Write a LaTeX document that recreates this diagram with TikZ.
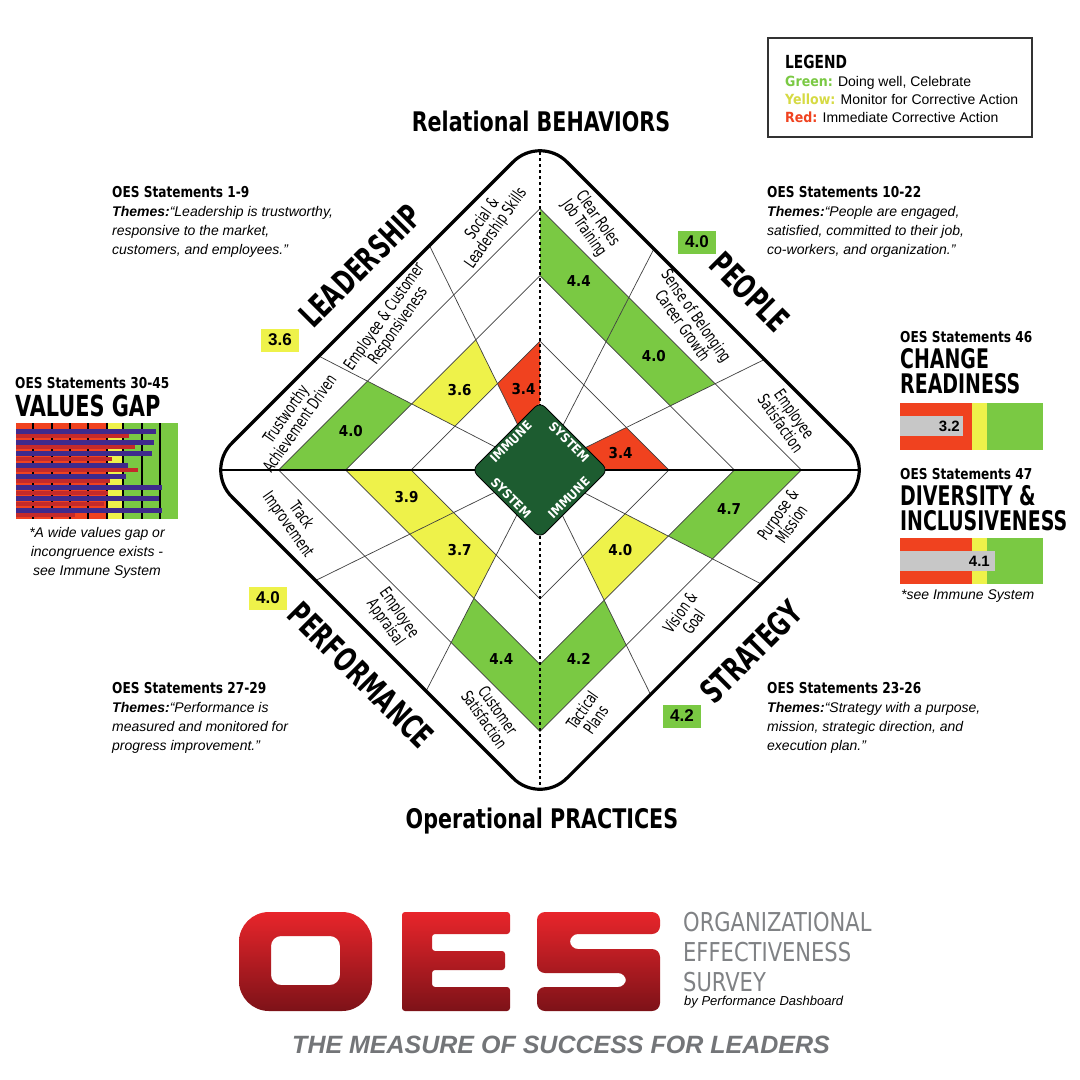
\documentclass[tikz,border=0pt]{standalone}
\usepackage{fontspec}
\setmainfont{Liberation Sans}
\newfontfamily\cond{DejaVu Sans Condensed}
\usetikzlibrary{calc}
\definecolor{gr}{HTML}{7AC943}
\definecolor{ye}{HTML}{EEF24A}
\definecolor{rd}{HTML}{F0421F}
\definecolor{dg}{HTML}{1D5C30}
\definecolor{gy}{HTML}{808285}
\definecolor{pu}{HTML}{3F2A8C}
\definecolor{dr}{HTML}{C42A2A}
\definecolor{lr1}{HTML}{E8252B}
\definecolor{lr2}{HTML}{7D1218}
\newcommand\QP[6]{({540+335*(#5)*((1-(#6))*(#1)+(#6)*(#3))},{470+335*(#5)*((1-(#6))*(#2)+(#6)*(#4))})}
\newcommand\PL[2]{\QP{-1}{0}{0}{-1}{#1}{#2}}
\newcommand\PP[2]{\QP{0}{-1}{1}{0}{#1}{#2}}
\newcommand\PS[2]{\QP{1}{0}{0}{1}{#1}{#2}}
\newcommand\PF[2]{\QP{0}{1}{-1}{0}{#1}{#2}}
\newcommand\hd[3]{{\cond\bfseries\fontsize{#1}{#1}\selectfont\scalebox{#2}[1]{#3}}}
\newcommand\cl[1]{\scalebox{0.76}[1]{\renewcommand\arraystretch{0.82}\begin{tabular}{@{}c@{}}#1\end{tabular}}}
\newcommand\cellq[6]{\fill[#1] #2{#3}{#5} -- #2{#4}{#5} -- #2{#4}{#6} -- #2{#3}{#6} -- cycle;}
\begin{document}
\begin{tikzpicture}[x=1pt,y=-1pt,
  web/.style={draw=black!75,line width=0.7pt},
  sc/.style={font=\cond\bfseries\fontsize{15}{15}\selectfont},
  cat/.style={font=\cond\fontsize{16.5}{17}\selectfont,inner sep=0},
  imm/.style={white,inner sep=0,font=\cond\bfseries\fontsize{12.5}{12.5}\selectfont},
  big/.style={inner sep=0},
  sbox/.style={minimum width=38,minimum height=23,inner sep=0,font=\bfseries\fontsize{17}{17}\selectfont},
  body/.style={anchor=north west,align=left,inner sep=0,font=\fontsize{14}{19}\selectfont}]
\useasboundingbox (0,0) rectangle (1080,1080);
\fill[white] (0,0) rectangle (1080,1080);
% cells
\def\ra{0.2}\def\rb{0.385}\def\rc{0.58}\def\rd{0.78}
\def\fa{0.34}\def\fb{0.67}
\cellq{gr}{\PL}{\rc}{\rd}{0}{\fa}
\cellq{ye}{\PL}{\rb}{\rc}{\fa}{\fb}
\cellq{rd}{\PL}{\ra}{\rb}{\fb}{1}
\cellq{gr}{\PP}{\rc}{\rd}{0}{\fa}
\cellq{gr}{\PP}{\rc}{\rd}{\fa}{\fb}
\cellq{rd}{\PP}{\ra}{\rb}{\fb}{1}
\cellq{gr}{\PS}{\rc}{\rd}{0}{\fa}
\cellq{ye}{\PS}{\rb}{\rc}{\fa}{\fb}
\cellq{gr}{\PS}{\rc}{\rd}{\fb}{1}
\cellq{gr}{\PF}{\rc}{\rd}{0}{\fa}
\cellq{ye}{\PF}{\rb}{\rc}{\fa}{\fb}
\cellq{ye}{\PF}{\rb}{\rc}{\fb}{1}
% rings
\foreach \r in {\rb,\rc,\rd}{
  \draw[web] (540,{470-335*\r}) -- ({540+335*\r},470) -- (540,{470+335*\r}) -- ({540-335*\r},470) -- cycle;}
% spokes
\foreach \f in {\fa,\fb}{
  \draw[web] \PL{\ra}{\f} -- \PL{1}{\f};
  \draw[web] \PP{\ra}{\f} -- \PP{1}{\f};
  \draw[web] \PS{\ra}{\f} -- \PS{1}{\f};
  \draw[web] \PF{\ra}{\f} -- \PF{1}{\f};}
% axes and frame
\draw[line width=1.5pt] (222,470) -- (858,470);
\draw[line width=1.5pt,dash pattern=on 3pt off 3pt] (540,152) -- (540,788);
\draw[line width=3.2pt,rounded corners=38] (540,135) -- (875,470) -- (540,805) -- (205,470) -- cycle;
% immune
\filldraw[fill=dg,draw=black,line width=0.8pt,rounded corners=7] (540,402) -- (608,470) -- (540,538) -- (472,470) -- cycle;
\node[imm,rotate=45] (im1) at (511,442) {IMMUNE};
\node[imm,rotate=-45] (im2) at (569,442) {SYSTEM};
\node[imm,rotate=-45] (im3) at (511,498) {SYSTEM};
\node[imm,rotate=45] (im4) at (569,498) {IMMUNE};
% scores
\node[sc] (s1) at \PL{0.68}{0.17} {4.0};
\node[sc] (s2) at \PL{0.48}{0.5} {3.6};
\node[sc] (s3) at \PL{0.29}{0.83} {3.4};
\node[sc] (s4) at \PP{0.68}{0.17} {4.4};
\node[sc] (s5) at \PP{0.68}{0.5} {4.0};
\node[sc] (s6) at \PP{0.29}{0.83} {3.4};
\node[sc] (s7) at \PS{0.68}{0.17} {4.7};
\node[sc] (s8) at \PS{0.48}{0.5} {4.0};
\node[sc] (s9) at \PS{0.68}{0.83} {4.2};
\node[sc] (s10) at \PF{0.68}{0.17} {4.4};
\node[sc] (s11) at \PF{0.48}{0.5} {3.7};
\node[sc] (s12) at \PF{0.48}{0.83} {3.9};
% category labels
\node[cat,rotate=55] (c1) at \PL{0.885}{0.17} {\cl{Trustworthy\\Achievement Driven}};
\node[cat,rotate=55] (c2) at \PL{0.885}{0.5} {\cl{Employee \& Customer\\Responsiveness}};
\node[cat,rotate=55] (c3) at \PL{0.885}{0.83} {\cl{Social \&\\Leadership Skills}};
\node[cat,rotate=-55] (c4) at \PP{0.885}{0.17} {\cl{Clear Roles\\Job Training}};
\node[cat,rotate=-55] (c5) at \PP{0.885}{0.5} {\cl{Sense of Belonging\\Career Growth}};
\node[cat,rotate=-55] (c6) at \PP{0.885}{0.83} {\cl{Employee\\Satisfaction}};
\node[cat,rotate=55] (c7) at \PS{0.885}{0.17} {\cl{Purpose \&\\Mission}};
\node[cat,rotate=55] (c8) at \PS{0.885}{0.5} {\cl{Vision \&\\Goal}};
\node[cat,rotate=55] (c9) at \PS{0.885}{0.83} {\cl{Tactical\\Plans}};
\node[cat,rotate=-55] (c10) at \PF{0.885}{0.17} {\cl{Customer\\Satisfaction}};
\node[cat,rotate=-55] (c11) at \PF{0.885}{0.5} {\cl{Employee\\Appraisal}};
\node[cat,rotate=-55] (c12) at \PF{0.885}{0.83} {\cl{Track\\Improvement}};
% quadrant titles
\node[big,rotate=45] (L) at (360,266) {\hd{33}{0.75}{LEADERSHIP}};
\node[big,rotate=-45] (P) at (750,292) {\hd{33}{0.75}{PEOPLE}};
\node[big,rotate=45] (S) at (751,652) {\hd{33}{0.75}{STRATEGY}};
\node[big,rotate=-45] (F) at (361,675) {\hd{33}{0.75}{PERFORMANCE}};
\node[big] (top) at (541,121) {\hd{27}{0.85}{Relational BEHAVIORS}};
\node[big] (bot) at (542,821) {\hd{27}{0.85}{Operational PRACTICES}};
% score boxes
\node[sbox,fill=ye] (b1) at (280,340) {3.6};
\node[sbox,fill=gr] (b2) at (697,242) {4.0};
\node[sbox,fill=ye] (b3) at (268,598) {4.0};
\node[sbox,fill=gr] (b4) at (682,716) {4.2};
% themes
\node[body] (t1) at (112,186) {\hd{15}{0.9}{OES Statements 1-9}\\\textit{\textbf{Themes:}“Leadership is trustworthy,}\\\textit{responsive to the market,}\\\textit{customers, and employees.”}};
\node[body] (t2) at (767,186) {\hd{15}{0.9}{OES Statements 10-22}\\\textit{\textbf{Themes:}“People are engaged,}\\\textit{satisfied, committed to their job,}\\\textit{co-workers, and organization.”}};
\node[body] (t3) at (112,682) {\hd{15}{0.9}{OES Statements 27-29}\\\textit{\textbf{Themes:}“Performance is}\\\textit{measured and monitored for}\\\textit{progress improvement.”}};
\node[body] (t4) at (767,682) {\hd{15}{0.9}{OES Statements 23-26}\\\textit{\textbf{Themes:}“Strategy with a purpose,}\\\textit{mission, strategic direction, and}\\\textit{execution plan.”}};
% legend
\draw[line width=1.3pt,draw=black!80] (768,38) rectangle (1032,137);
\node[body,font=\fontsize{14}{18}\selectfont] (lg) at (785,55) {\hd{18}{0.85}{LEGEND}\\{\cond\bfseries\color{gr}Green:} Doing well, Celebrate\\{\cond\bfseries\color{ye!90!black}Yellow:} Monitor for Corrective Action\\{\cond\bfseries\color{rd}Red:} Immediate Corrective Action};
% values gap
\node[body] (vg1) at (15,377) {\hd{15}{0.9}{OES Statements 30-45}};
\node[body] (vg2) at (15,395) {\hd{29}{0.8}{VALUES GAP}};
\fill[rd] (16,423) rectangle (107,519);
\fill[ye] (107,423) rectangle (124,519);
\fill[gr] (124,423) rectangle (178,519);
\foreach \x in {33,52,70,88,107,123,142,160}{\draw[line width=1.2pt] (\x,423) -- (\x,519);}
\foreach \y/\l in {431/156,442/154,453/152,465/128,476/126,487/162,498/159,510/162}{\fill[pu] (16,\y-2.5) rectangle (\l,\y+2.5);}
\foreach \y/\l in {436/129,447/135,459/112,470/138,481/110,493/108,504/104,515/75}{\fill[dr] (16,\y-2) rectangle (\l,\y+2);}
\node[align=center,inner sep=0,font=\itshape\fontsize{14}{19}\selectfont] (vg3) at (97,553) {*A wide values gap or\\incongruence exists -\\see Immune System};
% change readiness
\node[body] (cr1) at (900,331) {\hd{15}{0.9}{OES Statements 46}};
\node[body,font=\fontsize{27}{25}\selectfont] (cr2) at (900,348) {\hd{27}{0.78}{CHANGE}\\\hd{27}{0.78}{READINESS}};
\fill[rd] (900,403) rectangle (972,450);
\fill[ye] (972,403) rectangle (987,450);
\fill[gr] (987,403) rectangle (1043,450);
\fill[black!22] (900,416) rectangle (963,436);
\node[anchor=east,inner sep=0,font=\bfseries\fontsize{15}{15}\selectfont] (cr3) at (960,426) {3.2};
\node[body] (di1) at (900,468) {\hd{15}{0.9}{OES Statements 47}};
\node[body,font=\fontsize{27}{25}\selectfont] (di2) at (900,485) {\hd{27}{0.78}{DIVERSITY \&}\\\hd{27}{0.78}{INCLUSIVENESS}};
\fill[rd] (900,538) rectangle (972,584);
\fill[ye] (972,538) rectangle (987,584);
\fill[gr] (987,538) rectangle (1043,584);
\fill[black!22] (900,551) rectangle (995,571);
\node[anchor=east,inner sep=0,font=\bfseries\fontsize{15}{15}\selectfont] (di3) at (990,561) {4.1};
\node[body,font=\itshape\fontsize{14}{14}\selectfont] (di4) at (901,590) {*see Immune System};
% logo
\shade[top color=lr1,bottom color=lr2,even odd rule] [rounded corners=30] (239,912) rectangle (372,1011) [rounded corners=10] (271,936) rectangle (340,985);
\shade[top color=lr1,bottom color=lr2,rounded corners=3] (402,912) -- (510,912) -- (510,934) -- (432,934) -- (432,951) -- (505,951) -- (505,970) -- (432,970) -- (432,987) -- (510,987) -- (510,1011) -- (402,1011) -- cycle;
\shade[top color=lr1,bottom color=lr2,rounded corners=8] (537,912) -- (660,912) -- (660,934) -- (570,934) -- (570,949) -- (660,949) -- (660,1011) -- (537,1011) -- (537,987) -- (626,987) -- (626,973) -- (537,973) -- cycle;
\node[body,text=gy,font=\cond\fontsize{26}{30}\selectfont] (lt) at (683,912) {\scalebox{0.9}[1]{ORGANIZATIONAL}\\\scalebox{0.9}[1]{EFFECTIVENESS}\\\scalebox{0.9}[1]{SURVEY}};
\node[body,font=\itshape\fontsize{13}{13}\selectfont] (by) at (684,996) {by Performance Dashboard};
\node[inner sep=0,text=gy!90!black,font=\bfseries\itshape\fontsize{25}{25}\selectfont] (tag) at (561,1045) {THE MEASURE OF SUCCESS FOR LEADERS};
\end{tikzpicture}
\end{document}
